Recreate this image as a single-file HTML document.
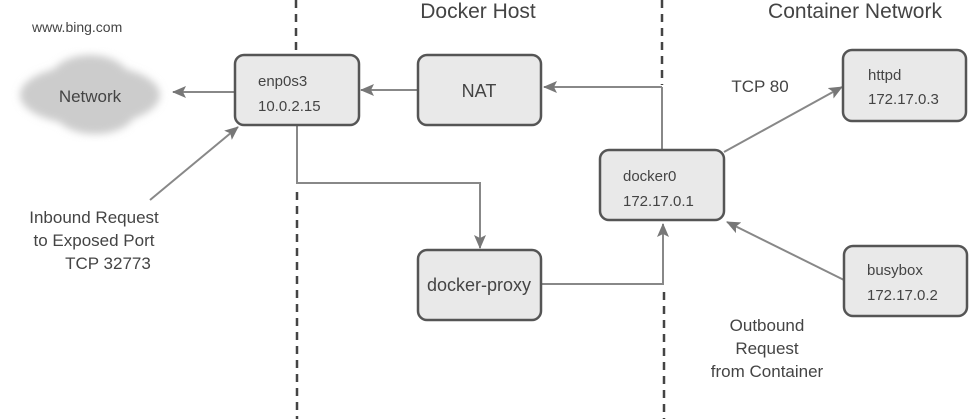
<!DOCTYPE html>
<html><head><style>
html,body{margin:0;padding:0;background:#fff;}
svg{display:block}
text{font-family:"Liberation Sans",sans-serif;fill:#444}
.n{font-family:"Liberation Sans Narrow","Liberation Sans",sans-serif;}
</style></head><body>
<svg width="974" height="419" viewBox="0 0 974 419" xmlns="http://www.w3.org/2000/svg">
<defs>
<marker id="a" markerWidth="14" markerHeight="12" refX="13" refY="6" orient="auto" markerUnits="userSpaceOnUse">
<path d="M0,0 L14,6 L0,12 L3,6 z" fill="#777"/></marker>
<filter id="b"><feGaussianBlur stdDeviation="4"/></filter>
</defs>
<g stroke="#444" stroke-width="2.5" stroke-dasharray="8,6" fill="none">
<line x1="296" y1="0" x2="296" y2="55"/>
<line x1="297" y1="192" x2="297" y2="419"/>
<line x1="662" y1="0" x2="662" y2="85"/>
<line x1="664" y1="292" x2="664" y2="419"/>
</g>
<text x="478" y="18" font-size="21" text-anchor="middle" fill="#555">Docker Host</text>
<text x="855" y="18" font-size="21" text-anchor="middle" fill="#555">Container Network</text>
<text x="32" y="32" font-size="14">www.bing.com</text>
<g filter="url(#b)" fill="#ccc">
<ellipse cx="90" cy="95" rx="70" ry="30"/>
<ellipse cx="90" cy="80" rx="40" ry="25"/>
<ellipse cx="95" cy="112" rx="40" ry="22"/>
</g>
<text x="90" y="102" font-size="17" text-anchor="middle" class="n">Network</text>
<g stroke="#888" stroke-width="2" fill="none" marker-end="url(#a)">
<line x1="235" y1="92" x2="173" y2="92"/>
<line x1="418" y1="90" x2="361" y2="90"/>
<polyline points="662,87 544,87" />
<polyline points="297,126 297,183 480,183 480,248"/>
<polyline points="541,284 663,284 663,224"/>
<line x1="724" y1="152" x2="842" y2="87"/>
<line x1="844" y1="280" x2="727" y2="222"/>
<line x1="150" y1="200" x2="238" y2="127"/>
</g>
<line x1="662" y1="87" x2="662" y2="150" stroke="#888" stroke-width="2"/>
<g fill="#e9e9e9" stroke="#555" stroke-width="2.5">
<rect x="235" y="55" width="124" height="70" rx="9"/>
<rect x="418" y="55" width="123" height="70" rx="9"/>
<rect x="600" y="150" width="124" height="70" rx="9"/>
<rect x="843" y="50" width="123" height="71" rx="9"/>
<rect x="844" y="246" width="123" height="70" rx="9"/>
<rect x="418" y="250" width="123" height="70" rx="9"/>
</g>
<text x="258" y="86" font-size="15">enp0s3</text>
<text x="258" y="111" font-size="15">10.0.2.15</text>
<text x="479" y="97" font-size="18" text-anchor="middle" class="n">NAT</text>
<text x="623" y="181" font-size="15">docker0</text>
<text x="623" y="206" font-size="15">172.17.0.1</text>
<text x="868" y="80" font-size="15">httpd</text>
<text x="868" y="104" font-size="15">172.17.0.3</text>
<text x="867" y="275" font-size="15">busybox</text>
<text x="867" y="300" font-size="15">172.17.0.2</text>
<text x="479" y="291" font-size="18" text-anchor="middle" class="n">docker-proxy</text>
<text x="760" y="92" font-size="17" text-anchor="middle" class="n">TCP 80</text>
<g font-size="17" text-anchor="middle" class="n">
<text x="94" y="223">Inbound Request</text>
<text x="94" y="246">to Exposed Port</text>
<text x="108" y="269">TCP 32773</text>
<text x="767" y="331">Outbound</text>
<text x="767" y="354">Request</text>
<text x="767" y="377">from Container</text>
</g>
</svg>
</body></html>
